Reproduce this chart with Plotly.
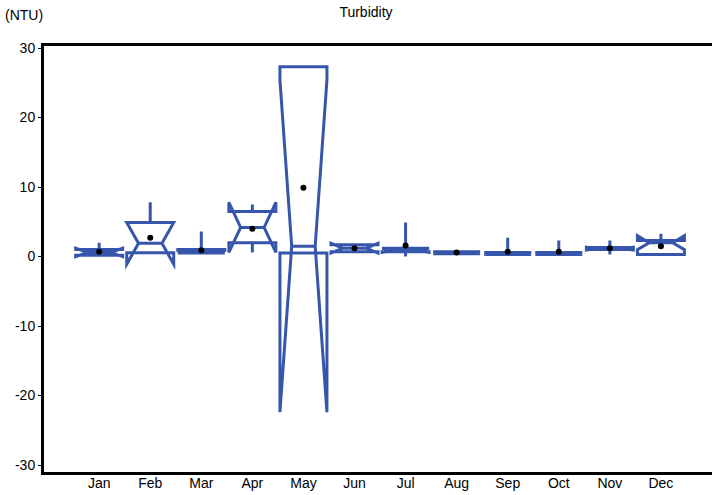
import plotly.graph_objects as go

months = ['Jan', 'Feb', 'Mar', 'Apr', 'May', 'Jun', 'Jul', 'Aug', 'Sep', 'Oct', 'Nov', 'Dec']
q1 = [0.2, 0.55, 0.5, 2.0, 0.5, 0.7, 0.7, 0.4, 0.3, 0.3, 1.0, 0.3]
median = [0.6, 1.9, 0.7, 4.2, 1.5, 1.2, 0.9, 0.55, 0.45, 0.45, 1.15, 2.0]
q3 = [1.0, 4.9, 1.0, 6.5, 27.3, 1.7, 1.2, 0.7, 0.6, 0.6, 1.3, 2.3]
notchspan = [0.6, 3.0, 0.2, 3.6, 23.9, 0.7, 0.3, 0.15, 0.15, 0.15, 0.2, 1.0]
lowerfence = [0.2, 0.55, 0.5, 0.6, 0.5, 0.7, 0.0, 0.4, 0.3, 0.3, 0.3, 0.3]
upperfence = [2.0, 7.8, 3.6, 7.5, 27.3, 1.7, 4.9, 0.7, 2.7, 2.3, 2.3, 3.3]
means = [0.7, 2.7, 0.9, 4.0, 9.9, 1.2, 1.6, 0.6, 0.7, 0.7, 1.2, 1.5]
yticks = [30, 20, 10, 0, -10, -20, -30]

blue = '#3656ab'
font = 'Liberation Sans, Arial, sans-serif'

fig = go.Figure()
# whiskers follow the fences only when boxpoints is not False
fig.add_trace(go.Box(
    x=months, q1=q1, median=median, q3=q3,
    lowerfence=lowerfence, upperfence=upperfence, notchspan=notchspan,
    notched=True, notchwidth=0.25, whiskerwidth=0,
    line=dict(color=blue, width=3), fillcolor='rgba(0,0,0,0)',
    boxpoints='outliers', marker=dict(opacity=0),
    showlegend=False, hoverinfo='skip',
))
fig.add_trace(go.Scatter(
    x=months, y=means, mode='markers',
    marker=dict(color='black', size=6), showlegend=False, hoverinfo='skip',
))

fig.update_layout(
    width=712, height=495,
    margin=dict(l=44, r=0, t=46, b=23),
    plot_bgcolor='white', paper_bgcolor='white',
    font=dict(family=font, size=14, color='black'),
    boxgap=0.08, boxgroupgap=0,
    title=dict(text='Turbidity', x=0.514, xanchor='center', y=0.975, yanchor='middle',
               font=dict(family=font, size=14, color='black')),
    annotations=[dict(text='(NTU)', xref='paper', yref='paper', x=-0.062, y=1.072,
                      xanchor='left', yanchor='middle', showarrow=False)],
)

fig.update_xaxes(
    range=[-1.08, 12.0], showline=True, linecolor='black', linewidth=3,
    mirror=True, ticks='', showgrid=False, zeroline=False,
    tickfont=dict(size=14), ticklabelstandoff=-4,
)
fig.update_yaxes(
    range=[-31, 30.3], tickvals=yticks, ticktext=[str(v) for v in yticks],
    showline=True, linecolor='black', linewidth=3,
    ticks='outside', ticklen=3, tickwidth=1, tickcolor='black',
    showgrid=False, zeroline=False, tickfont=dict(size=14),
)

fig.write_html('out.html', config={'displayModeBar': False},
               post_script="document.body.style.margin='0';")
